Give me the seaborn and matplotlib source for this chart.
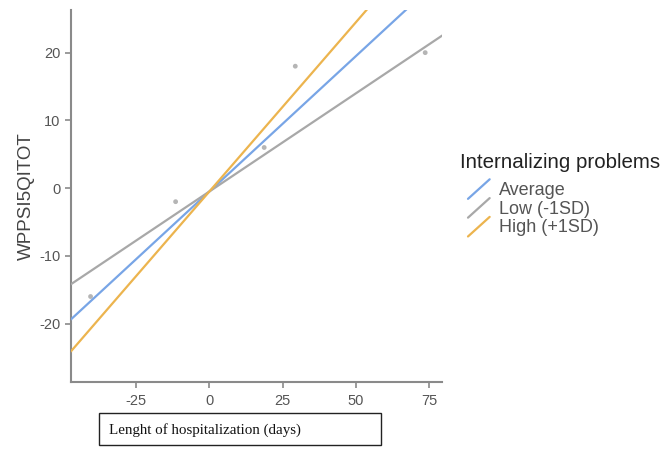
import numpy as np
import pandas as pd
import seaborn as sns
import matplotlib
matplotlib.use("Agg")
import matplotlib.pyplot as plt
from matplotlib.lines import Line2D
from matplotlib.legend_handler import HandlerBase
from matplotlib.patches import Rectangle

# Simple slopes
groups = ["Average", "Low (-1SD)", "High (+1SD)"]
slopes = [0.40, 0.29, 0.50]
intercept = -0.5
colors = ["#78a5e6", "#a8a8a8", "#ecb44e"]

# Observed points (gray dots)
obs_x = [-40.5, -11.5, 18.7, 29.3, 73.6]
obs_y = [-16, -2, 6, 18, 20]

x_range = [-47.2, 79.4]
y_range = [-28.6, 26.3]

rows = []
for g, b in zip(groups, slopes):
    for xv in x_range:
        rows.append({"x": xv, "y": intercept + b * xv, "group": g})
lines_df = pd.DataFrame(rows)
pts_df = pd.DataFrame({"x": obs_x, "y": obs_y})

sns.set_style("white")
plt.rcParams["font.family"] = ["Liberation Sans", "DejaVu Sans"]
plt.rcParams["axes.unicode_minus"] = False

fig = plt.figure(figsize=(6.69, 4.53), dpi=100)
ax = fig.add_axes([0.106, 0.157, 0.555, 0.821])

sns.scatterplot(data=pts_df, x="x", y="y", color="#b5b5b5", s=12,
                edgecolor="none", ax=ax, zorder=2)
sns.lineplot(data=lines_df, x="x", y="y", hue="group", hue_order=groups,
             palette=colors, linewidth=1.6, ax=ax, legend=False, zorder=3)

ax.set_xlim(*x_range)
ax.set_ylim(*y_range)
ax.set_xticks([-25, 0, 25, 50, 75])
ax.set_yticks([-20, -10, 0, 10, 20])
for s in ["top", "right"]:
    ax.spines[s].set_visible(False)
for s in ["left", "bottom"]:
    ax.spines[s].set_color("#8a8a8a")
    ax.spines[s].set_linewidth(1.5)
ax.tick_params(axis="both", direction="out", length=4, width=1.2,
               color="#8a8a8a", labelcolor="#555555", labelsize=10.5,
               left=True, bottom=True)
ax.tick_params(axis="x", pad=5)
ax.set_xlabel("")
ax.set_ylabel("WPPSI5QITOT", fontsize=13.5, color="#444444", labelpad=3)


class DiagHandler(HandlerBase):
    def create_artists(self, legend, orig_handle, xdescent, ydescent,
                       width, height, fontsize, trans):
        ln = Line2D([-xdescent, width - xdescent],
                    [-ydescent - 3, height - ydescent + 2],
                    color=orig_handle.get_color(), linewidth=1.6)
        ln.set_transform(trans)
        return [ln]


handles = [Line2D([], [], color=c) for c in colors]
leg = fig.legend(handles, groups,
                 loc="center left", bbox_to_anchor=(468 / 669, 1 - 209 / 453),
                 frameon=False, fontsize=13,
                 handlelength=1.2, handletextpad=0.5, labelspacing=0.1,
                 borderaxespad=0, borderpad=0,
                 handler_map={Line2D: DiagHandler()})
for t in leg.get_texts():
    t.set_color("#555555")
fig.text(460 / 669, 1 - 162 / 453, "Internalizing problems", fontsize=14.8,
         color="#222222", ha="left", va="center")

# boxed x-axis label
fig.patches.append(Rectangle((99 / 669, 1 - 445 / 453), 282 / 669, 32 / 453,
                             transform=fig.transFigure, fill=False,
                             edgecolor="#222222", linewidth=1.0))
fig.text(109 / 669, 1 - 430 / 453, "Lenght of hospitalization (days)",
         family=["Liberation Serif", "DejaVu Serif"], fontsize=10.8,
         color="#111111", va="center", ha="left")

fig.savefig("out.png", dpi=100)
